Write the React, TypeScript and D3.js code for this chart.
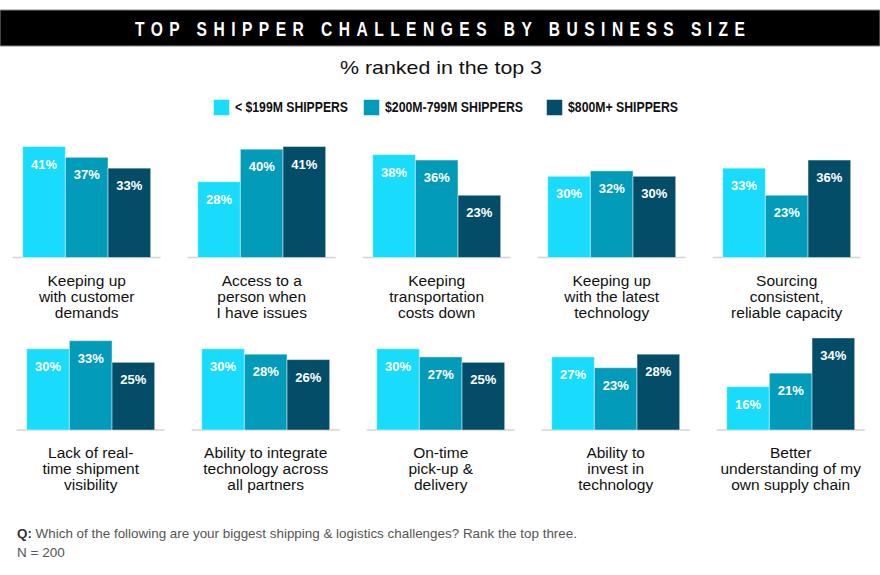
// @ts-nocheck
import React from "react";
import * as d3 from "d3";

const series = ["< $199M SHIPPERS", "$200M-799M SHIPPERS", "$800M+ SHIPPERS"];
const colors = ["#19dbfb", "#029bb9", "#034d69"];
const legendWidths = [113, 138, 110];

const rowOneLabels = [
  ["Keeping up", "with customer", "demands"],
  ["Access to a", "person when", "I have issues"],
  ["Keeping", "transportation", "costs down"],
  ["Keeping up", "with the latest", "technology"],
  ["Sourcing", "consistent,", "reliable capacity"],
];
const rowOneValues = [
  [41, 37, 33],
  [28, 40, 41],
  [38, 36, 23],
  [30, 32, 30],
  [33, 23, 36],
];

const rowTwoLabels = [
  ["Lack of real-", "time shipment", "visibility"],
  ["Ability to integrate", "technology across", "all partners"],
  ["On-time", "pick-up &", "delivery"],
  ["Ability to", "invest in", "technology"],
  ["Better", "understanding of my", "own supply chain"],
];
const rowTwoValues = [
  [30, 33, 25],
  [30, 28, 26],
  [30, 27, 25],
  [27, 23, 28],
  [16, 21, 34],
];

const W = 880;
const H = 575;
const sans = "'Liberation Sans', Arial, sans-serif";

export default function App() {
  const svgRef = React.useRef(null);

  React.useEffect(() => {
    const svg = d3.select(svgRef.current);
    svg.selectAll("*").remove();

    svg.append("rect").attr("width", W).attr("height", H).attr("fill", "#fff");

    // title bar
    svg.append("rect").attr("x", 0).attr("y", 10).attr("width", W).attr("height", 36)
      .attr("fill", "#000").attr("stroke", "#888").attr("stroke-width", 1);
    // condensed look: squeeze glyphs horizontally, keep the letter spacing
    const sx = 0.78;
    svg.append("text")
      .attr("transform", `scale(${sx},1)`)
      .attr("x", 135 / sx).attr("y", 36)
      .attr("textLength", 610 / sx).attr("lengthAdjust", "spacing")
      .attr("fill", "#fff").attr("font-family", sans).attr("font-weight", "bold")
      .attr("font-size", 20)
      .text("TOP SHIPPER CHALLENGES BY BUSINESS SIZE");

    svg.append("text")
      .attr("x", 340).attr("y", 74)
      .attr("textLength", 202).attr("lengthAdjust", "spacingAndGlyphs")
      .attr("fill", "#111").attr("font-family", sans).attr("font-size", 19)
      .text("% ranked in the top 3");

    // legend
    const legendX = [213, 363, 546];
    const legend = svg.append("g");
    series.forEach((s, i) => {
      legend.append("rect")
        .attr("x", legendX[i] + 0.5).attr("y", 99.5).attr("width", 16).attr("height", 16)
        .attr("fill", colors[i]).attr("stroke", "rgba(255,255,255,0.5)");
      legend.append("text")
        .attr("x", legendX[i] + 22).attr("y", 112)
        .attr("textLength", legendWidths[i]).attr("lengthAdjust", "spacingAndGlyphs")
        .attr("font-family", sans).attr("font-weight", "bold").attr("font-size", 14)
        .attr("fill", "#111")
        .text(s);
    });

    const x = d3.scaleBand().domain(series).range([0, 128]).padding(0);
    const h = d3.scaleLinear().domain([0, 41]).range([0, 111]);

    const drawRow = (labels, values, baseY, offsetX) => {
      labels.forEach((lab, p) => {
        const g = svg.append("g").attr("transform", `translate(${offsetX + p * 175},0)`);
        g.append("line")
          .attr("x1", -10).attr("x2", 138).attr("y1", baseY).attr("y2", baseY)
          .attr("stroke", "#d4d4d4").attr("stroke-width", 1.5);
        const vals = values[p].map((v, i) => ({ key: series[i], v, i }));
        g.selectAll("rect.bar").data(vals).enter().append("rect")
          .attr("class", "bar")
          .attr("x", (d) => x(d.key))
          .attr("y", (d) => baseY - h(d.v))
          .attr("width", x.bandwidth())
          .attr("height", (d) => h(d.v))
          .attr("fill", (d) => colors[d.i])
          .attr("stroke", "rgba(255,255,255,0.45)")
          .attr("stroke-width", 1);
        g.selectAll("text.val").data(vals).enter().append("text")
          .attr("class", "val")
          .attr("x", (d) => x(d.key) + x.bandwidth() / 2)
          .attr("y", (d) => baseY - h(d.v) + 22)
          .attr("text-anchor", "middle")
          .attr("fill", "#fff").attr("font-family", sans).attr("font-weight", "bold")
          .attr("font-size", 13)
          .text((d) => `${d.v}%`);
        lab.forEach((line, j) => {
          g.append("text")
            .attr("x", 64).attr("y", baseY + 28 + j * 16)
            .attr("text-anchor", "middle")
            .attr("fill", "#111").attr("font-family", sans).attr("font-size", 15.5)
            .text(line);
        });
      });
    };

    drawRow(rowOneLabels, rowOneValues, 257.5, 22.7);
    drawRow(rowTwoLabels, rowTwoValues, 430, 26.7);

    // footnote
    const q = svg.append("text").attr("x", 17).attr("y", 538)
      .attr("textLength", 560).attr("lengthAdjust", "spacingAndGlyphs")
      .attr("font-family", sans).attr("font-size", 13.5).attr("fill", "#555");
    q.append("tspan").attr("font-weight", "bold").attr("fill", "#333").text("Q:");
    q.append("tspan").text(" Which of the following are your biggest shipping & logistics challenges? Rank the top three.");
    svg.append("text").attr("x", 17).attr("y", 557)
      .attr("font-family", sans).attr("font-size", 13.5).attr("fill", "#555")
      .text("N = 200");
  }, []);

  return (
    <svg ref={svgRef} width={W} height={H}
      style={{ position: "absolute", left: 0, top: 0, display: "block" }} />
  );
}
